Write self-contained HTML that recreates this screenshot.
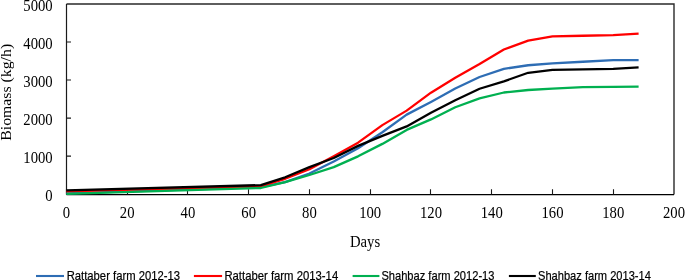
<!DOCTYPE html>
<html><head><meta charset="utf-8"><style>
html,body{margin:0;padding:0;background:#fff;}
body{width:685px;height:280px;overflow:hidden;}
svg{display:block;will-change:transform;}
.serif{font-family:"Liberation Serif",serif;font-size:14.7px;fill:#000;}
.sans{font-family:"Liberation Sans",sans-serif;font-size:12.1px;fill:#000;stroke:#000;stroke-width:0.2px;}
</style></head><body>
<svg width="685" height="280" viewBox="0 0 685 280">
<rect x="0" y="0" width="685" height="280" fill="#fff"/>
<path d="M66.5,4.0H674.0V194.6" fill="none" stroke="#2a2a2a" stroke-width="1.4"/>
<path d="M66.5,4.0V194.6" fill="none" stroke="#1a1a1a" stroke-width="1.2"/>
<path d="M66.5,194.6H674.0" fill="none" stroke="#000" stroke-width="1.2"/>
<path d="M66.50,194.60V189.20M127.50,194.60V189.20M187.50,194.60V189.20M248.50,194.60V189.20M309.50,194.60V189.20M370.50,194.60V189.20M430.50,194.60V189.20M491.50,194.60V189.20M552.50,194.60V189.20M613.50,194.60V189.20M66.50,194.20H71.00M66.50,156.14H71.00M66.50,118.08H71.00M66.50,80.02H71.00M66.50,41.96H71.00" stroke="#1a1a1a" stroke-width="1.1" fill="none"/>
<g fill="none" stroke-width="2.30" stroke-linejoin="round" stroke-linecap="butt"><polyline points="66.40,193.44 260.83,187.20 285.14,182.17 309.44,173.50 333.74,161.58 358.05,148.26 382.35,132.24 406.66,114.62 430.96,101.90 455.26,88.51 479.57,76.98 503.87,68.83 528.18,65.25 552.48,63.35 582.86,61.75 613.24,60.15 638.61,60.08" stroke="#2E6DB4"/><polyline points="66.40,191.31 260.83,186.21 285.14,178.79 309.44,169.27 333.74,156.25 358.05,142.63 382.35,125.12 406.66,110.62 430.96,92.69 455.26,77.74 479.57,64.03 503.87,49.53 528.18,40.55 552.48,36.33 582.86,35.76 613.24,35.15 638.61,33.62" stroke="#FF0000"/><polyline points="66.40,193.82 260.83,188.00 285.14,182.10 309.44,174.98 333.74,167.10 358.05,156.33 382.35,143.88 406.66,129.92 430.96,119.41 455.26,107.23 479.57,98.40 503.87,92.50 528.18,89.99 552.48,88.62 582.86,87.21 613.24,86.95 638.61,86.72" stroke="#00B050"/><polyline points="66.40,190.39 260.83,185.14 285.14,177.30 309.44,167.18 333.74,158.04 358.05,145.86 382.35,135.85 406.66,126.42 430.96,112.75 455.26,100.19 479.57,88.77 503.87,81.35 528.18,72.79 552.48,69.86 582.86,69.36 613.24,68.87 638.61,67.38" stroke="#000000"/></g>
<text class="serif" text-anchor="middle" transform="translate(66.40,218.10) scale(1,1.090)">0</text><text class="serif" text-anchor="middle" transform="translate(127.16,218.10) scale(1,1.090)">20</text><text class="serif" text-anchor="middle" transform="translate(187.92,218.10) scale(1,1.090)">40</text><text class="serif" text-anchor="middle" transform="translate(248.68,218.10) scale(1,1.090)">60</text><text class="serif" text-anchor="middle" transform="translate(309.44,218.10) scale(1,1.090)">80</text><text class="serif" text-anchor="middle" transform="translate(370.20,218.10) scale(1,1.090)">100</text><text class="serif" text-anchor="middle" transform="translate(430.96,218.10) scale(1,1.090)">120</text><text class="serif" text-anchor="middle" transform="translate(491.72,218.10) scale(1,1.090)">140</text><text class="serif" text-anchor="middle" transform="translate(552.48,218.10) scale(1,1.090)">160</text><text class="serif" text-anchor="middle" transform="translate(613.24,218.10) scale(1,1.090)">180</text><text class="serif" text-anchor="middle" transform="translate(674.00,218.10) scale(1,1.090)">200</text>
<text class="serif" text-anchor="end" transform="translate(52.70,201.30) scale(1,1.090)">0</text><text class="serif" text-anchor="end" transform="translate(52.70,163.24) scale(1,1.090)">1000</text><text class="serif" text-anchor="end" transform="translate(52.70,125.18) scale(1,1.090)">2000</text><text class="serif" text-anchor="end" transform="translate(52.70,87.12) scale(1,1.090)">3000</text><text class="serif" text-anchor="end" transform="translate(52.70,49.06) scale(1,1.090)">4000</text><text class="serif" text-anchor="end" transform="translate(52.70,11.00) scale(1,1.090)">5000</text>
<text class="serif" text-anchor="middle" transform="translate(365.00,246.80) scale(1,1.090)">Days</text>
<text class="serif" text-anchor="middle" transform="translate(11.2,92.3) rotate(-90) scale(1.074,1)">Biomass (kg/h)</text>
<g class="sans"><line x1="36.0" y1="276.0" x2="64.0" y2="276.0" stroke="#2E6DB4" stroke-width="2.1"/><text x="66.7" y="280.0" textLength="113.3" lengthAdjust="spacingAndGlyphs">Rattaber farm 2012-13</text><line x1="193.9" y1="276.0" x2="222.1" y2="276.0" stroke="#FF0000" stroke-width="2.1"/><text x="224.4" y="280.0" textLength="113.8" lengthAdjust="spacingAndGlyphs">Rattaber farm 2013-14</text><line x1="352.6" y1="276.0" x2="379.4" y2="276.0" stroke="#00B050" stroke-width="2.1"/><text x="381.4" y="280.0" textLength="113.1" lengthAdjust="spacingAndGlyphs">Shahbaz farm 2012-13</text><line x1="508.9" y1="276.0" x2="535.8" y2="276.0" stroke="#000000" stroke-width="2.1"/><text x="538.0" y="280.0" textLength="112.9" lengthAdjust="spacingAndGlyphs">Shahbaz farm 2013-14</text></g>
</svg>
</body></html>
